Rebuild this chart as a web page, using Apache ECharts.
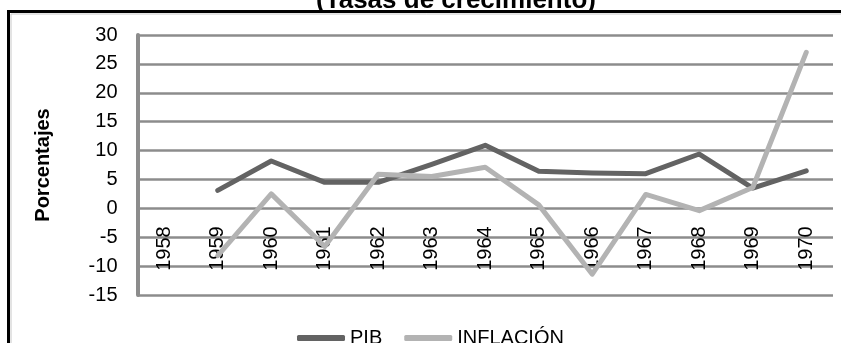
<!DOCTYPE html>
<html>
<head>
<meta charset="utf-8">
<script src="https://cdn.jsdelivr.net/npm/echarts@6/dist/echarts.min.js"></script>
<style>
html,body{margin:0;padding:0;background:#fff;}
#c{width:841px;height:343px;}
</style>
</head>
<body>
<div id="c"></div>
<script>
const years = ['1958','1959','1960','1961','1962','1963','1964','1965','1966','1967','1968','1969','1970'];
const pib = [null, 3.1, 8.2, 4.5, 4.5, 7.6, 10.9, 6.4, 6.1, 6.0, 9.4, 3.5, 6.5];
const inflacion = [null, -8.2, 2.5, -6.6, 5.9, 5.5, 7.1, 0.6, -11.4, 2.4, -0.4, 3.6, 27.0];
const yTicks = {min: -15, max: 30, interval: 5};
const titleText = '(Tasas de crecimiento)';
const yName = 'Porcentajes';
const seriesNames = ['PIB', 'INFLACIÓN'];

const FONT = '"Liberation Sans", Arial, sans-serif';
const GRID_TOP = 35, GRID_BOTTOM = 48, H = 343;
const plotH = H - GRID_TOP - GRID_BOTTOM;
// distance from bottom of plot to the zero line, so category labels sit under 0
const zeroOffset = plotH * (0 - yTicks.min) / (yTicks.max - yTicks.min);

const chart = echarts.init(document.getElementById('c'), null, {renderer: 'canvas'});
chart.setOption({
  animation: false,
  backgroundColor: '#fff',
  textStyle: {fontFamily: FONT},
  title: {
    text: titleText,
    left: 451,
    textAlign: 'center',
    top: -17,
    textStyle: {fontFamily: FONT, fontSize: 26, fontWeight: 'bold', color: '#000'}
  },
  graphic: [
    {type: 'rect', silent: true, z: 100,
     shape: {x: 8.5, y: 11.5, width: 900, height: 500},
     style: {fill: 'none', stroke: '#000', lineWidth: 3}},
    {type: 'rect', silent: true, z: 100,
     shape: {x: 11, y: 14, width: 900, height: 500},
     style: {fill: 'none', stroke: '#c8c8c8', lineWidth: 1}}
  ],
  legend: {
    data: seriesNames,
    left: 292,
    top: 323,
    itemWidth: 48,
    itemHeight: 6,
    itemGap: 22,
    icon: 'roundRect',
    textStyle: {fontFamily: FONT, fontSize: 20, color: '#000', padding: [0, 0, 0, 0]}
  },
  grid: {left: 137.5, right: 8, top: GRID_TOP, bottom: GRID_BOTTOM, containLabel: false, outerBoundsMode: 'none'},
  xAxis: {
    type: 'category',
    data: years,
    boundaryGap: true,
    offset: -zeroOffset,
    axisLine: {show: false, onZero: false},
    axisTick: {show: false},
    axisLabel: {rotate: 90, margin: 18, fontSize: 20, color: '#000', fontFamily: FONT, interval: 0},
    splitLine: {show: false}
  },
  yAxis: {
    type: 'value',
    min: yTicks.min,
    max: yTicks.max,
    interval: yTicks.interval,
    name: yName,
    nameLocation: 'middle',
    nameGap: 84,
    nameRotate: 90,
    nameTextStyle: {fontFamily: FONT, fontSize: 20, fontWeight: 'bold', color: '#000'},
    axisLine: {show: true, onZero: false, lineStyle: {color: '#8c8c8c', width: 4}},
    axisTick: {show: false},
    axisLabel: {margin: 20, fontSize: 20, color: '#000', fontFamily: FONT},
    splitLine: {show: true, lineStyle: {color: '#8c8c8c', width: 2.5}}
  },
  series: [
    {name: seriesNames[0], type: 'line', data: pib, symbol: 'none', connectNulls: false,
     lineStyle: {color: '#636363', width: 5, cap: 'round', join: 'round'},
     itemStyle: {color: '#636363'}, z: 3},
    {name: seriesNames[1], type: 'line', data: inflacion, symbol: 'none', connectNulls: false,
     lineStyle: {color: '#b3b3b3', width: 5, cap: 'round', join: 'round'},
     itemStyle: {color: '#b3b3b3'}, z: 4}
  ]
});
</script>
</body>
</html>
